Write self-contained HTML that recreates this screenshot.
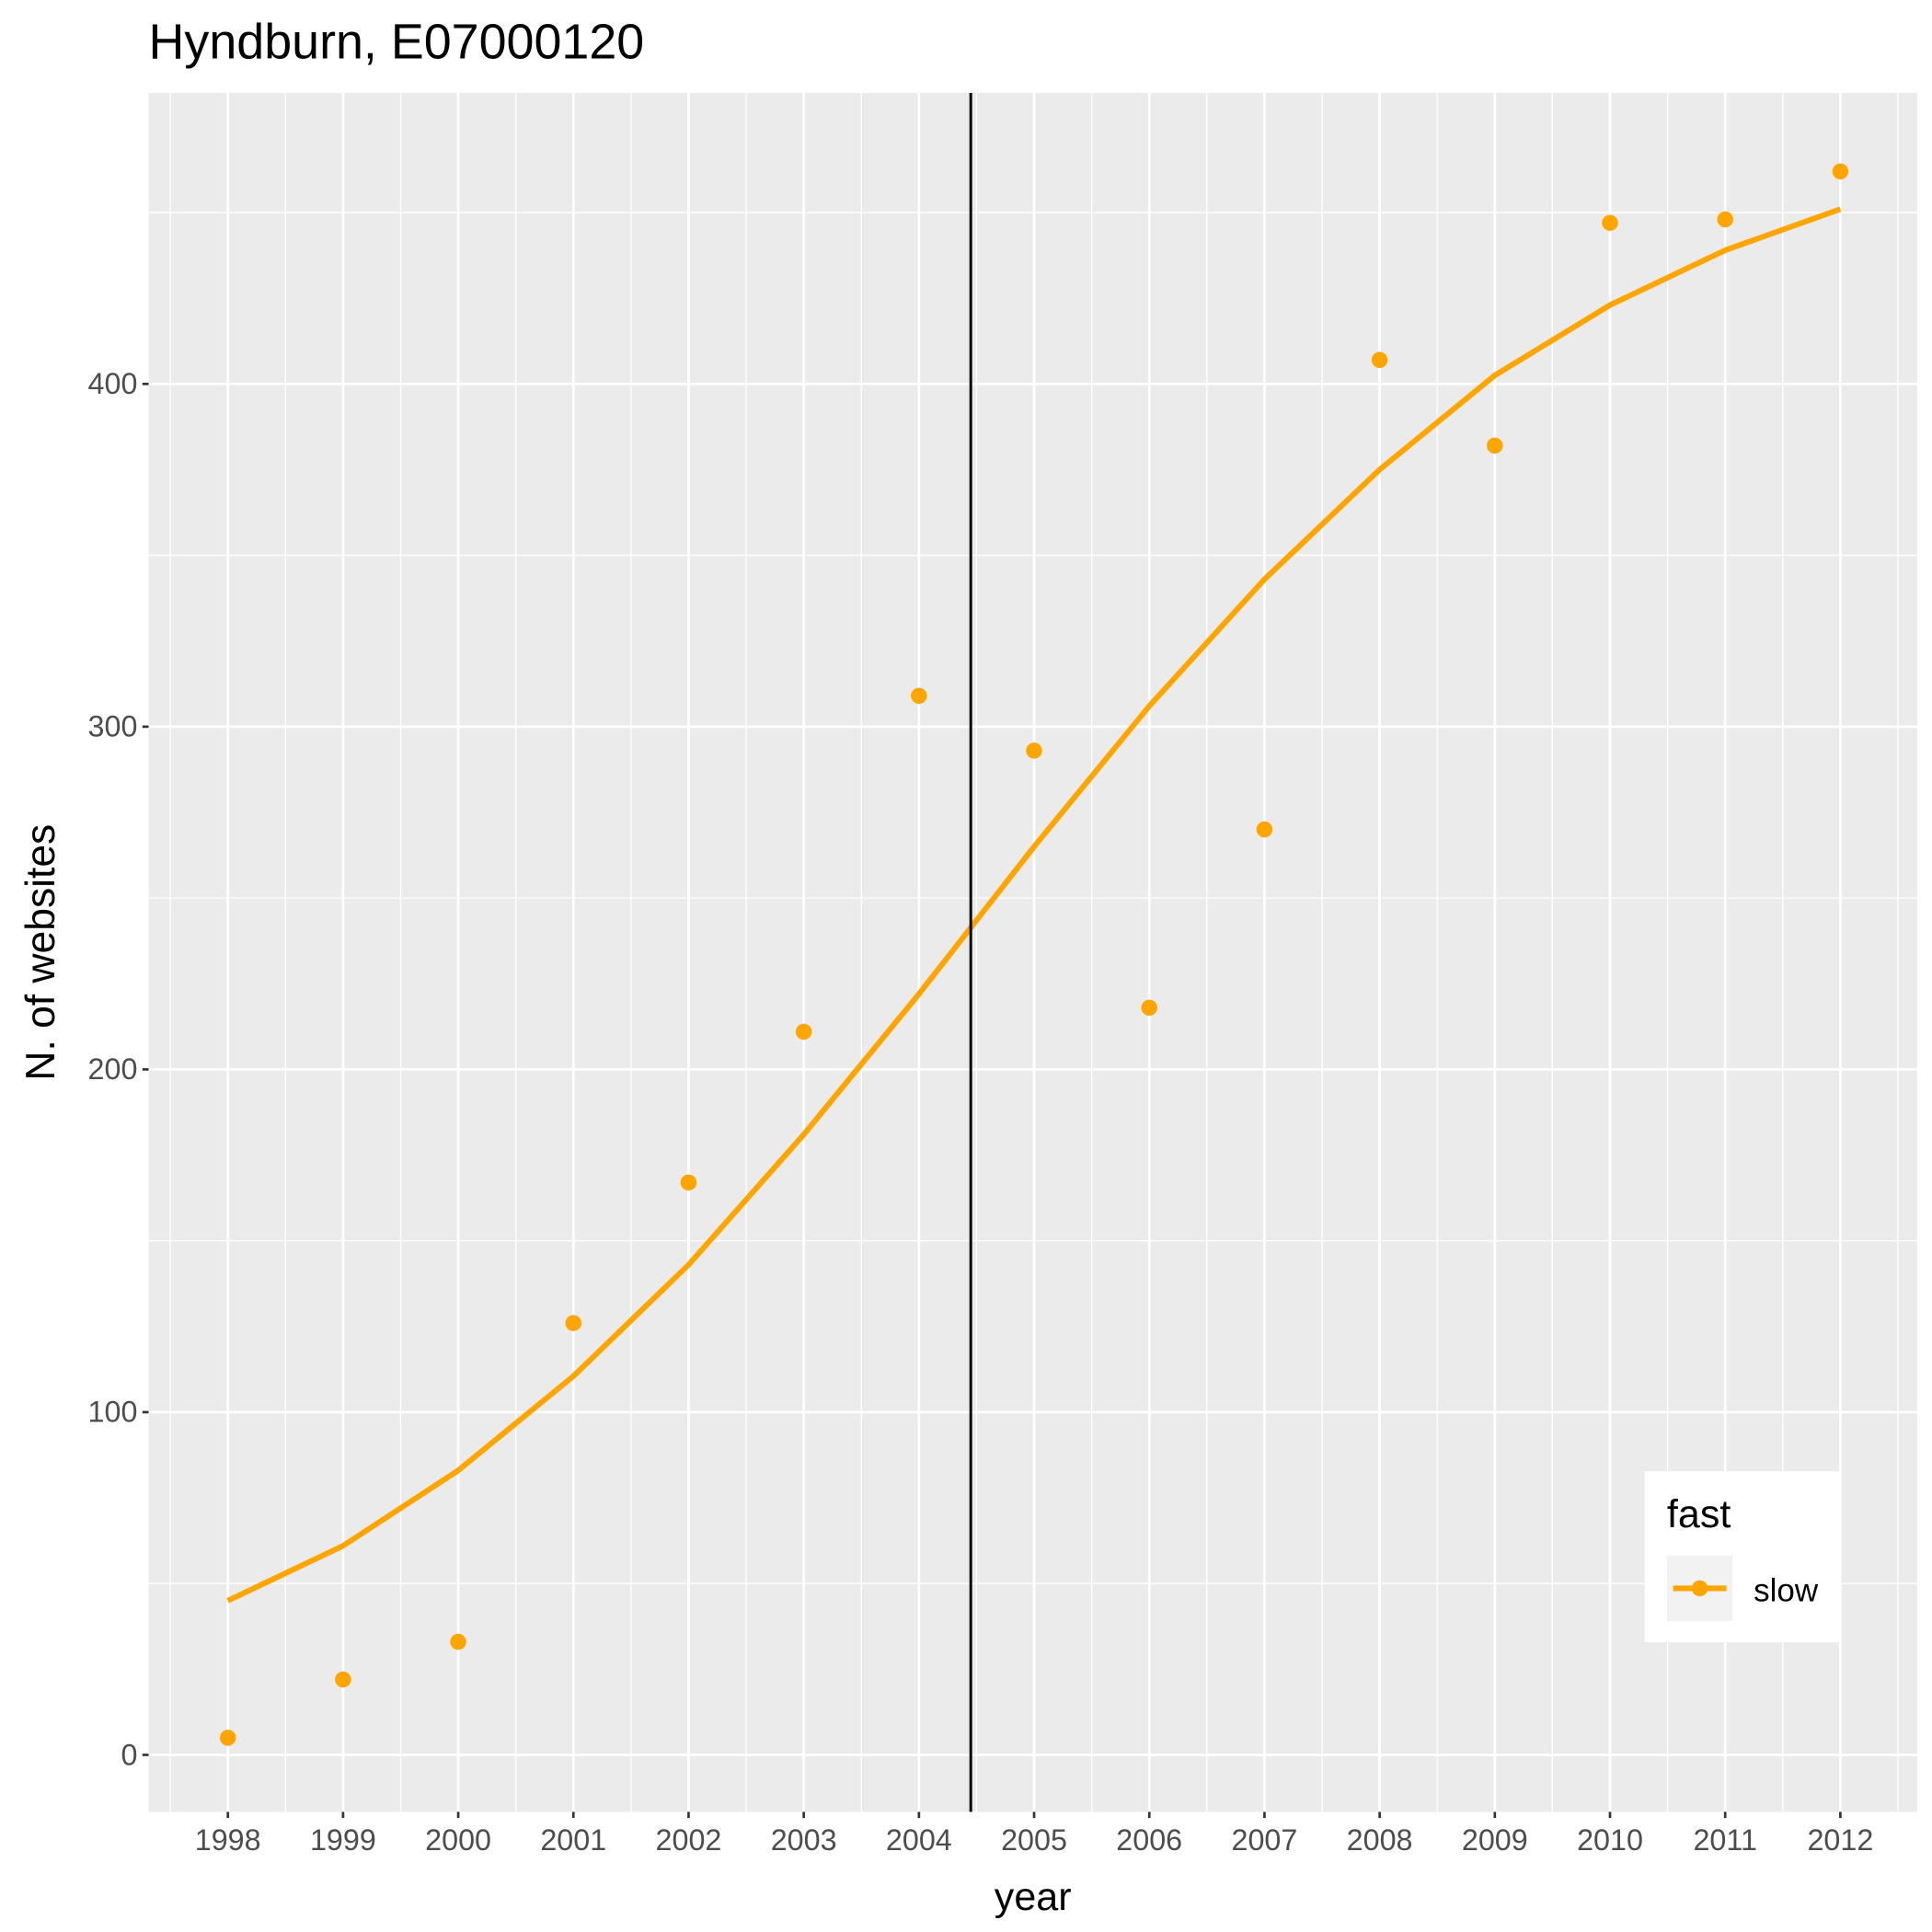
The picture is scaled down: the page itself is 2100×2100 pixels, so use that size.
<!DOCTYPE html>
<html><head><meta charset="utf-8"><style>html,body{margin:0;padding:0;background:#fff}svg{display:block}</style></head>
<body>
<svg id="chart" width="2100" height="2100" viewBox="0 0 1560 1560" xmlns="http://www.w3.org/2000/svg" font-family="Liberation Sans, Arial, sans-serif">
<rect width="1560" height="1560" fill="#fff"/>
<g id="g"></g>
</svg>
<script>
const years = [1998,1999,2000,2001,2002,2003,2004,2005,2006,2007,2008,2009,2010,2011,2012];
const pointValues = [5,22,33,126,167,211,309,293,218,270,407,382,447,448,462];
const lineValues = [45,61,83,110.5,143,181,222,265,306,343,375,402.5,423,439,451];
const yTicks = [0,100,200,300,400];
const yMinor = [50,150,250,350,450];
const vlineYear = 2004.45;

const NS='http://www.w3.org/2000/svg';
const g=document.getElementById('g');
const L=120,R=1548,T=75,B=1463;
const x=v=>184+(v-1998)*93;
const y=v=>1417-v*2.7675;
function el(tag,attrs,parent){const e=document.createElementNS(NS,tag);for(const k in attrs)e.setAttribute(k,attrs[k]);(parent||g).appendChild(e);return e;}

const panel=el('rect',{x:L,y:T,width:R-L,height:B-T,fill:'#EBEBEB'});



yMinor.forEach(v=>{const l=el('line',{x1:L,x2:R,y1:y(v),y2:y(v),stroke:'#fff','stroke-width':1});

});
years.concat([1997]).forEach(v=>{const l=el('line',{x1:x(v+0.5),x2:x(v+0.5),y1:T,y2:B,stroke:'#fff','stroke-width':1});

});
yTicks.forEach(v=>{const l=el('line',{x1:L,x2:R,y1:y(v),y2:y(v),stroke:'#fff','stroke-width':2});


const t=el('line',{x1:L-5,x2:L,y1:y(v),y2:y(v),stroke:'#333','stroke-width':2});


const tx=el('text',{x:L-9,y:y(v)+8,'text-anchor':'end','font-size':24,fill:'#4D4D4D'});tx.textContent=v;

});
years.forEach(v=>{const l=el('line',{x1:x(v),x2:x(v),y1:T,y2:B,stroke:'#fff','stroke-width':2});


const t=el('line',{x1:x(v),x2:x(v),y1:B,y2:B+5,stroke:'#333','stroke-width':2});


const tx=el('text',{x:x(v),y:B+31,'text-anchor':'middle','font-size':24,fill:'#4D4D4D'});tx.textContent=v;

});

const path=el('polyline',{points:years.map((v,i)=>x(v)+','+y(lineValues[i])).join(' '),fill:'none',stroke:'#FFA500','stroke-width':4.5,'stroke-linejoin':'round'});


years.forEach((v,i)=>{const c=el('circle',{cx:x(v),cy:y(pointValues[i]),r:6.5,fill:'#FFA500'});

});

const vl=el('line',{x1:x(vlineYear),x2:x(vlineYear),y1:T,y2:B,stroke:'#000','stroke-width':2.2});



const title=el('text',{x:120,y:47,'font-size':40,fill:'#000'});title.textContent='Hyndburn, E07000120';


const xt=el('text',{x:(L+R)/2,y:1542,'text-anchor':'middle','font-size':32,fill:'#000'});xt.textContent='year';


const yt=el('text',{x:0,y:0,'text-anchor':'middle','font-size':33,fill:'#000',transform:`translate(44,${(T+B)/2}) rotate(-90)`});yt.textContent='N. of websites';



const lg=el('g',{});


el('rect',{x:1328,y:1188,width:157,height:138,fill:'#fff'},lg);
const lt=el('text',{x:1346,y:1233,'font-size':32,fill:'#000'},lg);lt.textContent='fast';


el('rect',{x:1346,y:1256,width:53,height:53,fill:'#F2F2F2'},lg);
el('line',{x1:1351,x2:1394,y1:1282.5,y2:1282.5,stroke:'#FFA500','stroke-width':4.5},lg);
el('circle',{cx:1372.5,cy:1282.5,r:6.5,fill:'#FFA500'},lg);
const ll=el('text',{x:1416,y:1293,'font-size':26,fill:'#000'},lg);ll.textContent='slow';


</script>
</body></html>
